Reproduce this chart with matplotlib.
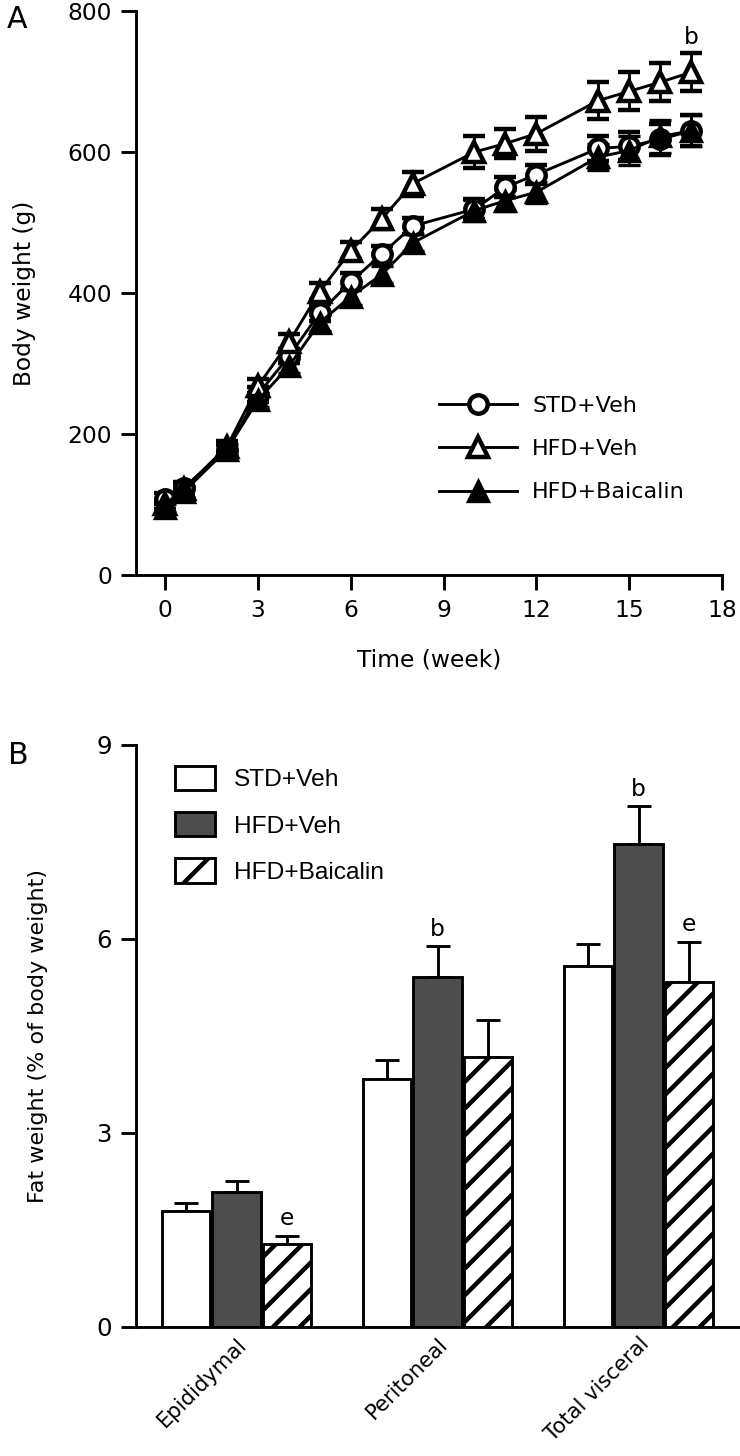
import matplotlib
matplotlib.use("Agg")
import matplotlib.pyplot as plt
from matplotlib.lines import Line2D
from matplotlib.patches import Patch
import numpy as np

plt.rcParams['font.family'] = ['DejaVu Sans']
plt.rcParams['hatch.linewidth'] = 2.0

DPI = 160
W, H = 740, 1456

# ---------------- Panel A data ----------------
weeks = [0, 0.6, 2, 3, 4, 5, 6, 7, 8, 10, 11, 12, 14, 15, 16, 17]
std_veh = [108, 124, 177, 256, 310, 372, 416, 455, 495, 519, 550, 568, 605, 608, 618, 630]
std_err = [8, 8, 8, 10, 10, 12, 12, 12, 12, 14, 14, 14, 18, 20, 22, 22]
hfd_veh = [100, 122, 182, 268, 330, 402, 460, 505, 555, 600, 612, 626, 673, 686, 699, 713]
hfd_err = [6, 8, 8, 10, 12, 12, 12, 14, 17, 22, 20, 24, 26, 27, 27, 27]
hfd_bai = [95, 118, 178, 248, 296, 358, 395, 426, 471, 517, 531, 543, 593, 602, 622, 630]
bai_err = [6, 8, 8, 10, 10, 12, 12, 12, 12, 15, 15, 15, 18, 20, 24, 22]
series_names = ['STD+Veh', 'HFD+Veh', 'HFD+Baicalin']
a_xticks = [0, 3, 6, 9, 12, 15, 18]
a_yticks = [0, 200, 400, 600, 800]

# ---------------- Panel B data ----------------
categories = ['Epididymal', 'Peritoneal', 'Total visceral']
b_std = [1.80, 3.83, 5.59]
b_std_err = [0.11, 0.30, 0.34]
b_hfd = [2.08, 5.42, 7.47]
b_hfd_err = [0.18, 0.47, 0.58]
b_bai = [1.29, 4.18, 5.33]
b_bai_err = [0.11, 0.56, 0.62]
b_yticks = [0, 3, 6, 9]
b_marks_hfd = ['', 'b', 'b']
b_marks_bai = ['e', '', 'e']

fig = plt.figure(figsize=(W / DPI, H / DPI), dpi=DPI)

LW = 1.3

def px_axes(left, top, right, bottom):
    return fig.add_axes([left / W, 1 - bottom / H, (right - left) / W, (bottom - top) / H])

# ================= Panel A =================
ax1 = px_axes(136, 11, 722, 575)
styles = [
    dict(marker='o', mfc='white', mec='black', ms=8.3, mew=2.0),
    dict(marker='^', mfc='white', mec='black', ms=9.3, mew=2.0),
    dict(marker='^', mfc='black', mec='black', ms=9.3, mew=1.5),
]
data_sets = [(std_veh, std_err), (hfd_veh, hfd_err), (hfd_bai, bai_err)]
handles = []
for (vals, errs), st, name in zip(data_sets, styles, series_names):
    ax1.errorbar(weeks, vals, yerr=errs, color='black', lw=LW, capsize=5, capthick=LW,
                 elinewidth=LW, clip_on=False, zorder=3, **st)
    handles.append(Line2D([0], [0], color='black', lw=LW, **st))

ax1.text(weeks[-1], hfd_veh[-1] + hfd_err[-1] + 6, 'b', ha='center', va='bottom', fontsize=10.5)

ax1.set_xlim(-0.94, 18)
ax1.set_ylim(0, 800)
ax1.set_xticks(a_xticks)
ax1.set_yticks(a_yticks)
for s in ['top', 'right']:
    ax1.spines[s].set_visible(False)
for s in ['left', 'bottom']:
    ax1.spines[s].set_linewidth(LW)
ax1.tick_params(direction='out', length=6.75, width=LW, labelsize=10.5, pad=4)
ax1.set_xlabel('Time (week)', fontsize=10.5, labelpad=12)
ax1.set_ylabel('Body weight (g)', fontsize=10.5, labelpad=14)
leg1 = ax1.legend(handles, series_names, loc='upper left', bbox_to_anchor=(0.517, 0.318),
                  frameon=False, fontsize=10, handlelength=3.5, handletextpad=0.7,
                  labelspacing=1.05, borderpad=0, borderaxespad=0, numpoints=1)
fig.text(7 / W, 1 - 5 / H, 'A', fontsize=13.5, va='top', ha='left')

# ================= Panel B =================
ax2 = px_axes(136, 745, 739, 1327)
x = np.arange(len(categories))
bw = 0.24
off = 0.252
ekw = dict(elinewidth=LW, capthick=LW, ecolor='black', capsize=5.5)
ax2.bar(x - off, b_std, bw, color='white', edgecolor='black', lw=LW, zorder=2)
ax2.errorbar(x - off, b_std, yerr=[np.zeros(3), b_std_err], fmt='none', zorder=1, **ekw)
ax2.bar(x, b_hfd, bw, color='#4d4d4d', edgecolor='black', lw=LW, zorder=2)
ax2.errorbar(x, b_hfd, yerr=[np.zeros(3), b_hfd_err], fmt='none', zorder=1, **ekw)
ax2.bar(x + off, b_bai, bw, color='white', edgecolor='black', hatch='//', lw=LW, zorder=2)
ax2.errorbar(x + off, b_bai, yerr=[np.zeros(3), b_bai_err], fmt='none', zorder=1, **ekw)

for i in range(3):
    if b_marks_hfd[i]:
        ax2.text(x[i], b_hfd[i] + b_hfd_err[i] + 0.08, b_marks_hfd[i], ha='center', va='bottom', fontsize=10.5)
    if b_marks_bai[i]:
        ax2.text(x[i] + off, b_bai[i] + b_bai_err[i] + 0.1, b_marks_bai[i], ha='center', va='bottom', fontsize=10.5)

ax2.set_xlim(-0.5, 2.5)
ax2.set_ylim(0, 9)
ax2.set_yticks(b_yticks)
ax2.set_xticks(x)
ax2.set_xticklabels(categories, rotation=45, ha='right', rotation_mode='anchor', fontsize=9.5)
ax2.tick_params(axis='x', length=0, pad=3)
ax2.tick_params(axis='y', direction='out', length=6.75, width=LW, labelsize=11, pad=4)
for s in ['top', 'right']:
    ax2.spines[s].set_visible(False)
for s in ['left', 'bottom']:
    ax2.spines[s].set_linewidth(LW)
ax2.set_ylabel('Fat weight (% of body weight)', fontsize=10, labelpad=22)

bh = [Patch(facecolor='white', edgecolor='black', lw=LW),
      Patch(facecolor='#4d4d4d', edgecolor='black', lw=LW),
      Patch(facecolor='white', edgecolor='black', hatch='/', lw=LW)]
leg2 = ax2.legend(bh, series_names, loc='upper left', bbox_to_anchor=(0.065, 0.964),
                  frameon=False, prop={'family': 'Liberation Sans', 'size': 11},
                  handlelength=1.64, handleheight=1.15, handletextpad=0.75,
                  labelspacing=0.85, borderpad=0, borderaxespad=0)
fig.text(8 / W, 1 - 741 / H, 'B', fontsize=13.5, va='top', ha='left')

fig.savefig('out.png', dpi=DPI)
